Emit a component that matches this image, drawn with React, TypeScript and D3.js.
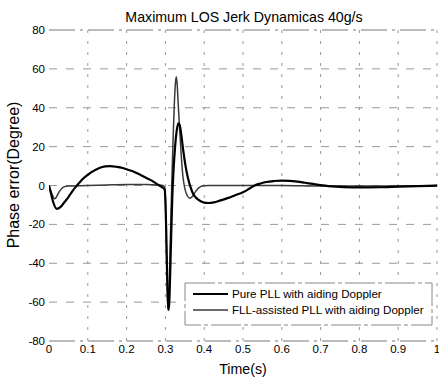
import * as d3 from "d3";
import { useEffect, useRef } from "react";

// Pure PLL with aiding Doppler (thick black)
const purePll: [number, number][] = [
  [0, 0], [0.005, -4], [0.01, -8], [0.02, -12], [0.03, -11], [0.04, -8.5],
  [0.05, -6], [0.06, -3], [0.072, 0], [0.085, 3], [0.1, 5.5], [0.115, 7.5],
  [0.13, 9], [0.145, 9.8], [0.157, 10], [0.175, 9.6], [0.19, 9], [0.205, 8],
  [0.22, 7], [0.235, 5.5], [0.25, 4], [0.265, 2.5], [0.28, 0.5], [0.292, -1],
  [0.298, -2], [0.3, -8], [0.302, -22], [0.304, -42], [0.306, -58], [0.308, -64],
  [0.31, -60], [0.312, -48], [0.315, -25], [0.318, -5], [0.321, 8], [0.325, 20],
  [0.329, 28], [0.333, 32], [0.337, 31], [0.341, 26], [0.346, 18], [0.352, 10],
  [0.358, 4], [0.365, -1], [0.372, -4.5], [0.38, -6.5], [0.39, -8], [0.4, -8.8],
  [0.41, -9], [0.425, -8.7], [0.44, -7.8], [0.46, -6.5], [0.48, -5], [0.5, -3.5],
  [0.515, -1.8], [0.53, 0], [0.545, 1], [0.56, 1.8], [0.58, 2.3], [0.6, 2.5],
  [0.62, 2.4], [0.64, 2], [0.66, 1.4], [0.68, 0.8], [0.7, 0.2], [0.72, -0.3],
  [0.74, -0.6], [0.76, -0.8], [0.8, -1], [0.85, -0.9], [0.9, -0.6], [0.95, -0.3],
  [1.0, -0.1],
];

// FLL-assisted PLL with aiding Doppler (thin grey)
const fllPll: [number, number][] = [
  [0, 0], [0.005, -3], [0.01, -5.5], [0.014, -6.8], [0.018, -6.3], [0.022, -4.8],
  [0.027, -3], [0.033, -1.5], [0.04, -0.6], [0.05, -0.2], [0.1, 0], [0.15, 0.3],
  [0.2, 0.5], [0.25, 0.5], [0.28, 0.3], [0.294, 0], [0.298, -1], [0.3, -6],
  [0.302, -25], [0.304, -46], [0.306, -60], [0.307, -64], [0.309, -58], [0.311, -42],
  [0.314, -18], [0.317, 5], [0.32, 25], [0.323, 42], [0.326, 53], [0.328, 56],
  [0.33, 53], [0.333, 42], [0.337, 28], [0.341, 15], [0.345, 5], [0.35, -1.5],
  [0.356, -5], [0.363, -6.5], [0.37, -5.5], [0.378, -3], [0.386, -1.2], [0.395, -0.3],
  [0.41, 0], [0.5, 0], [0.6, 0], [0.7, -0.3], [0.8, -0.3], [0.9, -0.2], [1.0, 0],
];

const xTicks = [0, 0.1, 0.2, 0.3, 0.4, 0.5, 0.6, 0.7, 0.8, 0.9, 1];
const yTicks = [-80, -60, -40, -20, 0, 20, 40, 60, 80];
const seriesNames = ["Pure PLL with aiding Doppler", "FLL-assisted PLL with aiding Doppler"];

export default function App() {
  const ref = useRef<SVGSVGElement | null>(null);

  useEffect(() => {
    if (!ref.current) return;
    const svg = d3.select(ref.current);
    svg.selectAll("*").remove();

    const width = 439;
    const height = 378;
    const margin = { top: 30, right: 2, bottom: 37, left: 49 };
    const font = "Liberation Sans, Arial, sans-serif";

    const x = d3.scaleLinear().domain([0, 1]).range([margin.left, width - margin.right]);
    const y = d3.scaleLinear().domain([-80, 80]).range([height - margin.bottom, margin.top]);

    svg.append("rect").attr("width", width).attr("height", height).attr("fill", "#fff");

    svg
      .append("defs")
      .append("clipPath")
      .attr("id", "plot-clip")
      .append("rect")
      .attr("x", margin.left)
      .attr("y", margin.top - 2)
      .attr("width", width - margin.left - margin.right)
      .attr("height", height - margin.top - margin.bottom + 4);

    // grid
    const grid = svg.append("g");
    grid
      .selectAll("line.h")
      .data(yTicks)
      .enter()
      .append("line")
      .attr("x1", margin.left)
      .attr("x2", width - margin.right)
      .attr("y1", (d) => y(d))
      .attr("y2", (d) => y(d))
      .attr("stroke", (d) => (Math.abs(d) === 80 ? "#777" : "#999"))
      .attr("stroke-width", 1)
      .attr("stroke-dasharray", (d) => (Math.abs(d) === 80 ? "26,5,3,5" : "8,9"));

    grid
      .selectAll("line.v")
      .data(xTicks.filter((d) => d > 0))
      .enter()
      .append("line")
      .attr("x1", (d) => x(d))
      .attr("x2", (d) => x(d))
      .attr("y1", y(80))
      .attr("y2", y(-80))
      .attr("stroke", "#999")
      .attr("stroke-width", 1)
      .attr("stroke-dasharray", "3,8");

    // tick labels
    svg
      .append("g")
      .selectAll("text")
      .data(yTicks)
      .enter()
      .append("text")
      .attr("x", margin.left - 4)
      .attr("y", (d) => y(d) + 4)
      .attr("text-anchor", "end")
      .attr("font-family", font)
      .attr("font-size", 11.5)
      .text((d) => String(d));

    svg
      .append("g")
      .selectAll("text")
      .data(xTicks)
      .enter()
      .append("text")
      .attr("x", (d) => x(d))
      .attr("y", y(-80) + 12)
      .attr("text-anchor", "middle")
      .attr("font-family", font)
      .attr("font-size", 11.5)
      .text((d) => String(d));

    // lines
    const line = d3
      .line<[number, number]>()
      .x((d) => x(d[0]))
      .y((d) => y(d[1]))
      .curve(d3.curveMonotoneX);

    const plot = svg.append("g").attr("clip-path", "url(#plot-clip)");
    plot
      .append("path")
      .datum(fllPll)
      .attr("d", line)
      .attr("fill", "none")
      .attr("stroke", "#3a3a3a")
      .attr("stroke-width", 1.5);
    plot
      .append("path")
      .datum(purePll)
      .attr("d", line)
      .attr("fill", "none")
      .attr("stroke", "#000")
      .attr("stroke-width", 2.2);

    // legend
    const lg = svg.append("g").attr("transform", "translate(185,283)");
    lg.append("rect")
      .attr("width", 247)
      .attr("height", 42)
      .attr("fill", "#fff")
      .attr("stroke", "#888")
      .attr("stroke-dasharray", "30,3,4,3");
    const styles = [
      { color: "#000", w: 2.2 },
      { color: "#3a3a3a", w: 1.5 },
    ];
    seriesNames.forEach((name, i) => {
      const yy = 11 + i * 16;
      lg.append("line")
        .attr("x1", 8)
        .attr("x2", 43)
        .attr("y1", yy)
        .attr("y2", yy)
        .attr("stroke", styles[i].color)
        .attr("stroke-width", styles[i].w);
      lg.append("text")
        .attr("x", 47)
        .attr("y", yy + 4)
        .attr("font-family", font)
        .attr("font-size", 11.6)
        .text(name);
    });

    // titles
    svg
      .append("text")
      .attr("x", 244)
      .attr("y", 22)
      .attr("text-anchor", "middle")
      .attr("font-family", font)
      .attr("font-size", 14.2)
      .text("Maximum LOS Jerk Dynamicas 40g/s");

    svg
      .append("text")
      .attr("x", 243)
      .attr("y", 374)
      .attr("text-anchor", "middle")
      .attr("font-family", font)
      .attr("font-size", 14.2)
      .text("Time(s)");

    svg
      .append("text")
      .attr("transform", "translate(19,175) rotate(-90)")
      .attr("text-anchor", "middle")
      .attr("font-family", font)
      .attr("font-size", 16)
      .text("Phase error(Degree)");
  }, []);

  return (
    <div>
      <svg
        ref={ref}
        width={439}
        height={378}
        style={{ position: "absolute", left: 0, top: 0 }}
      ></svg>
    </div>
  );
}
